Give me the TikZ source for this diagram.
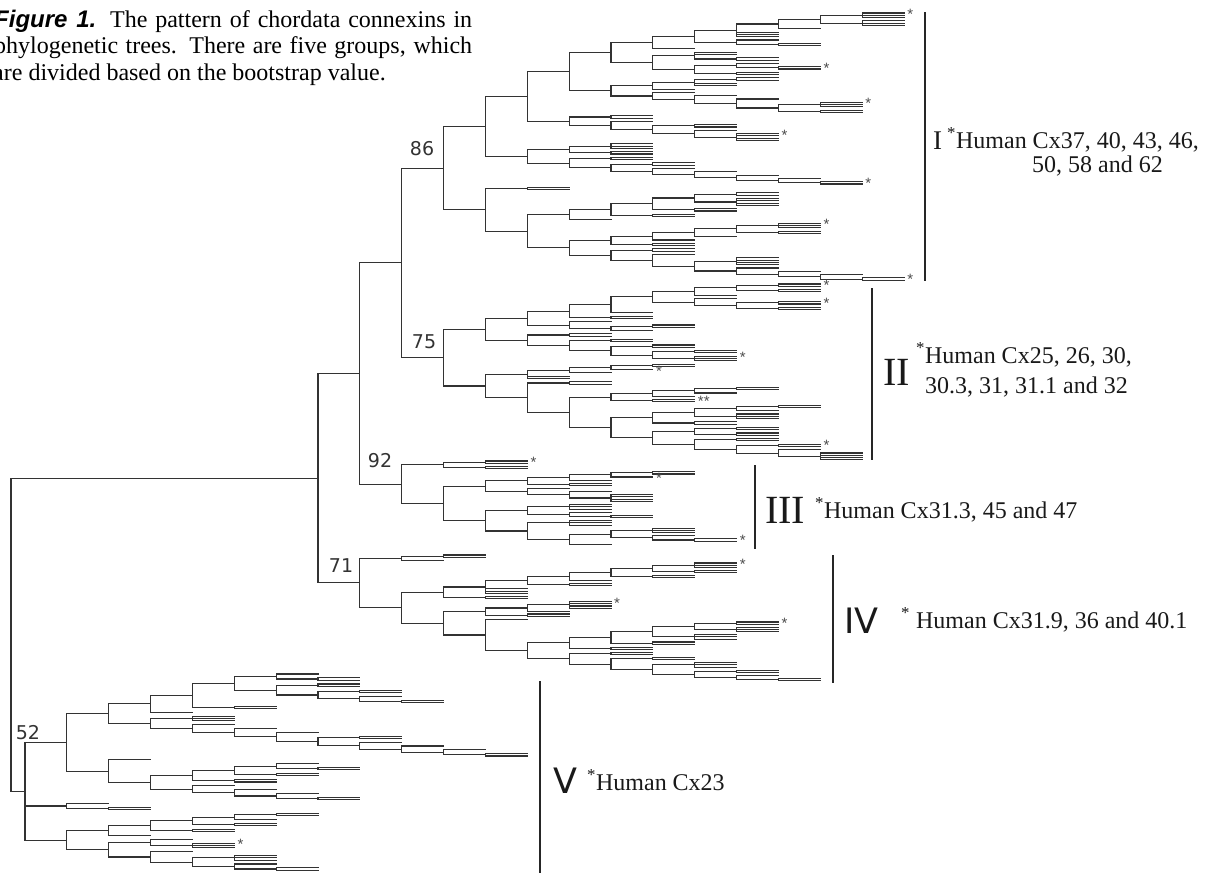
\documentclass[tikz,border=0pt]{standalone}
\usepackage{fontspec}
\setmainfont{Liberation Serif}
\newfontfamily\dvsans{DejaVu Sans}
\newfontfamily\lsans{Liberation Sans}
\newcount\tdepth
\begin{document}
\begin{tikzpicture}[x=1pt,y=-1pt,
  br/.style={line width=1.1pt, draw=black!80, line cap=rect},
  ast/.style={anchor=west, inner sep=0pt, font=\lsans\fontsize{15}{15}\selectfont, text=black!70},
  bs/.style={inner sep=0pt, font=\dvsans\fontsize{19}{19}\selectfont, text=black!80},
  gbar/.style={line width=1.4pt, draw=black!85},
  lab/.style={anchor=base west, inner sep=0pt, font=\fontsize{24}{24}\selectfont, text=black!90},
  numlab/.style={anchor=base west, inner sep=0pt, text=black!90},
  captxt/.style={anchor=base west, inner sep=0pt, font=\fontsize{24}{26}\selectfont}]
\useasboundingbox (0,0) rectangle (1212,873);

% ---------- caption ----------
\node[captxt] (cap1) at (-6,27) {\makebox[478pt][s]{{\lsans\bfseries\itshape Figure 1.} The pattern of chordata connexins in}};
\node[captxt] (cap2) at (-6,53) {\makebox[478pt][s]{phylogenetic trees. There are five groups, which}};
\node[captxt] (cap3) at (-7,80) {are divided based on the bootstrap value.};

\begin{scope}
% ---------- tree machinery ----------
\def\gN{3.6}\def\gT{2.3}\def\cury{0}\def\kk{-1}\let\yfirst\relax
\def\Gx#1{\fpeval{25+41.86*(#1)}}
\def\reg{\ifnum\kk<0 \else
   \edef\xa{\Gx{\kk}}\edef\xb{\Gx{\kk+1}}%
   \draw[br] (\xa,\ret) -- (\xb,\ret);\fi
   \ifx\yfirst\relax\edef\yfirst{\ret}\fi
   \edef\ylast{\ret}}
\def\N#1{\begingroup\global\advance\tdepth by 1 \edef\kk{\the\tdepth}\let\yfirst\relax
   #1%
   \edef\xa{\Gx{\kk}}%
   \draw[br] (\xa,\yfirst) -- (\xa,\ylast);
   \xdef\ret{\fpeval{(\yfirst+\ylast)/2}}%
   \global\advance\tdepth by -1
   \endgroup\reg}
\def\L{\xdef\cury{\fpeval{\cury+\gN}}\xdef\ret{\cury}\reg}
\def\l{\xdef\cury{\fpeval{\cury+\gT}}\xdef\ret{\cury}\reg}
\def\astk#1{\edef\xs{\fpeval{25+41.86*(\kk+1)+3}}\node[ast] at (\xs,{\cury+1.5}) {#1};}
\def\A{\L\astk{*}}
\def\W{\L\astk{**}}
\def\Y#1#2{\gdef\gN{#2}\xdef\cury{\fpeval{#1-#2}}}

% ---------- group I ----------
\def\TIb{\N{\N{\A\l\l}\N{\L\l\l}}}
\def\TIa{\N{\TIb\L}}
\def\TI{\N{\TIa\L\l\l}}
\def\TII{\N{\L\N{\L\l}}}
\def\SI{\N{\TI\TII}}
\def\PI{\N{\SI\L}}
\def\VI{\N{\L\l\N{\L\l}}}
\def\VII{\N{\N{\L\N{\A\l}}\N{\L\l}}}
\def\PII{\N{\VI\VII}}
\def\PP{\N{\PI\PII}}
\def\WI{\N{\N{\N{\L\l}\L\l}\L}}
\def\WII{\N{\L\N{\L\N{\L\N{\N{\A\l\l}\N{\L\l}}}}}}
\def\QQ{\N{\WI\WII}}
\def\UIa{\N{\PP\QQ}}
\def\UIb{\N{\N{\L\l}\N{\L\N{\N{\L\l}\N{\L\N{\A\l\l\l}}}}}}
\def\UI{\N{\UIa\UIb}}
\def\UIIa{\N{\N{\L\l\l}\N{\L\l}}}
\def\UIIb{\N{\N{\L\l}\N{\N{\L\l}\N{\L\N{\L\N{\L\N{\L\N{\A\l}}}}}}}}
\def\UII{\N{\UIIa\UIIb}}
\def\UU{\N{\UI\UII}}
\def\DIIa{\N{\N{\N{\N{\N{\L\l}\N{\L\l\l\l}}\N{\L\l}}\N{\L\l}}\L}}
\def\DIIbA{\N{\N{\N{\N{\N{\A\l\l}\N{\L\l}}\L}\L}\N{\L\l}}}
\def\DIIbB{\N{\N{\L\l}\N{\L\N{\N{\L\l\l\l}\N{\L\N{\L\N{\L\N{\A\l}}}}}}}}
\def\DIIb{\N{\DIIbA\DIIbB}}
\def\DII{\N{\DIIa\DIIb}}
\def\DD{\N{\N{\L\l}\DII}}
\def\GI{\N{\UU\DD}}
% ---------- group II ----------
\def\EId{\N{\N{\N{\N{\A\l}\N{\L\l}}\L}\N{\L\N{\N{\A\l}\N{\L\l}}}}}
\def\EIc{\N{\EId\L}}
\def\EIa{\N{\EIc\N{\L\l}}}
\def\EIb{\N{\L\N{\N{\L\l}\L}}}
\def\EI{\N{\EIa\EIb}}
\def\EII{\N{\N{\L\l}\N{\N{\L\l}\N{\N{\L\l}\N{\N{\L\l}\N{\A\l\l}}}}}}
\def\EE{\N{\EI\EII}}
\def\FI{\N{\N{\N{\N{\L\l}\A}\L}\L\l}}
\def\GGI{\N{\N{\N{\N{\L\l}\L}\L}\N{\W\l}}}
\def\GGIIa{\N{\N{\N{\N{\L\l}\L}\N{\L\l\l}}\N{\L\l}}}
\def\GGIIb{\N{\N{\N{\L\l}\N{\L\l}}\N{\N{\L\l}\N{\N{\A\l}\N{\L\N{\L\l\l\l}}}}}}
\def\GGII{\N{\GGIIa\GGIIb}}
\def\FIIb{\N{\GGI\GGII}}
\def\FII{\N{\N{\L\l}\FIIb}}
\def\FF{\N{\FI\FII}}
\def\GII{\N{\EE\FF}}
% ---------- group III ----------
\def\HI{\N{\N{\N{\N{\N{\L\l}\A}\L}\N{\L\l}}\N{\L\N{\L\N{\L\l\l\l}}}}}
\def\HII{\N{\N{\N{\L\l\l}\N{\L\N{\L\l}}}\N{\N{\L\l\l}\N{\N{\N{\L\l\l}\N{\L\N{\A\l}}}\L}}}}
\def\GIII{\N{\N{\N{\A\l}\N{\L\l}}\N{\HI\HII}}}
% ---------- group IV ----------
\def\KI{\N{\N{\N{\N{\N{\A\l}\N{\L\l\l}}\N{\L\l\l}}\N{\L\l}}\N{\L\l}}}
\def\KII{\N{\N{\L\l}\N{\N{\L\l}\N{\N{\L\l\l}\N{\N{\L\l}\N{\L\N{\L\l}}}}}}}
\def\JIIb{\N{\L\N{\KI\KII}}}
\def\JIIa{\N{\N{\N{\A\l\l\l}\L}\N{\L\l}}}
\def\JII{\N{\JIIa\JIIb}}
\def\JI{\N{\N{\N{\N{\N{\N{\N{\A\l\l}\N{\L\l}}\N{\L\l}}\L}\N{\L\l}}\L\l\l}\N{\L\l}}}
\def\GIV{\N{\N{\N{\L\l}\L}\N{\JI\JII}}}
% ---------- group V ----------
\def\VAa{\N{\N{\N{\L\N{\L\l}}\N{\N{\L\l}\N{\N{\L\l}\N{\L\N{\L\l}}}}}\N{\L\l}}}
\def\VA{\N{\VAa\L}}
\def\VBd{\N{\L\N{\L\N{\L\N{\L\l}}}}}
\def\VB{\N{\N{\L\l\l}\N{\L\N{\L\N{\L\N{\N{\L\l}\VBd}}}}}}
\def\VCb{\N{\L\N{\L\N{\L\N{\L\l}}}}}
\def\VCa{\N{\N{\N{\L\N{\L\l}}\N{\L\l}}\N{\L\l}}}
\def\VC{\N{\L\N{\VCa\VCb}}}
\def\VTop{\N{\N{\VA\VB}\VC}}
\def\VMid{\N{\L\N{\L\l}}}
\def\VBa{\N{\N{\N{\N{\N{\L\l}\L}\N{\L\l}}\N{\L\l}}\L}}
\def\VBb{\N{\N{\L\N{\A\l\l}}\N{\L\N{\N{\L\l\l}\N{\L\N{\L\l}}}}}}
\def\VBot{\N{\VBa\VBb}}
\def\GV{\N{\VTop\VMid\VBot}}

% ---------- draw ----------
\global\tdepth=6
\N{\N{\N{\Y{13}{3.3}\GI\xdef\ySI{\ret}\Y{284}{3.28}\GII\xdef\ySII{\ret}}\Y{461}{3.04}\GIII\xdef\ySIII{\ret}}\Y{555}{2.85}\GIV\xdef\ySIV{\ret}}
\xdef\yup{\ret}
\global\tdepth=-1
\Y{674}{3.83}\GV
\xdef\yvv{\ret}
\edef\xs{\Gx{7}}
\draw[br] (11,\yup) -- (\xs,\yup);
\draw[br] (11,\yvv) -- (25,\yvv);
\draw[br] (11,\yup) -- (11,\yvv);

\node[bs] (b86) at (422,{\ySI-20}) {86};
\node[bs] (b75) at (424,{\ySII-16}) {75};
\node[bs] (b92) at (380,{\ySIII-24}) {92};
\node[bs] (b71) at (341,{\ySIV-17}) {71};
\end{scope}
\node[bs] (b52) at (28,733) {52};

% ---------- group bars and labels ----------
\draw[gbar] (925,12) -- (925,281);
\draw[gbar] (872,288) -- (872,460);
\draw[gbar] (755,465) -- (755,549);
\draw[gbar] (833,555) -- (833,683);
\draw[gbar] (540,681) -- (540,873);

\node[numlab, font=\fontsize{27}{27}\selectfont] (gI) at (933,149) {I};
\node[lab] (tI1) at (947,148) {\textsuperscript{*}Human Cx37, 40, 43, 46,};
\node[lab] (tI2) at (1032,172) {50, 58 and 62};
\node[numlab, font=\fontsize{40}{40}\selectfont] (gII) at (883,385) {II};
\node[lab] (tII1) at (916,363) {\textsuperscript{*}Human Cx25, 26, 30,};
\node[lab] (tII2) at (925,393) {30.3, 31, 31.1 and 32};
\node[numlab, font=\fontsize{40}{40}\selectfont] (gIII) at (765,523) {III};
\node[lab] (tIII) at (815,518) {\textsuperscript{*}Human Cx31.3, 45 and 47};
\node[numlab, font=\dvsans\fontsize{35}{35}\selectfont] (gIV) at (844,633) {IV};
\node[lab] (tIV) at (901,628) {\textsuperscript{*} Human Cx31.9, 36 and 40.1};
\node[numlab, font=\dvsans\fontsize{35}{35}\selectfont] (gV) at (553,793) {V};
\node[lab] (tV) at (587,790) {\textsuperscript{*}Human Cx23};
\end{tikzpicture}
\end{document}
